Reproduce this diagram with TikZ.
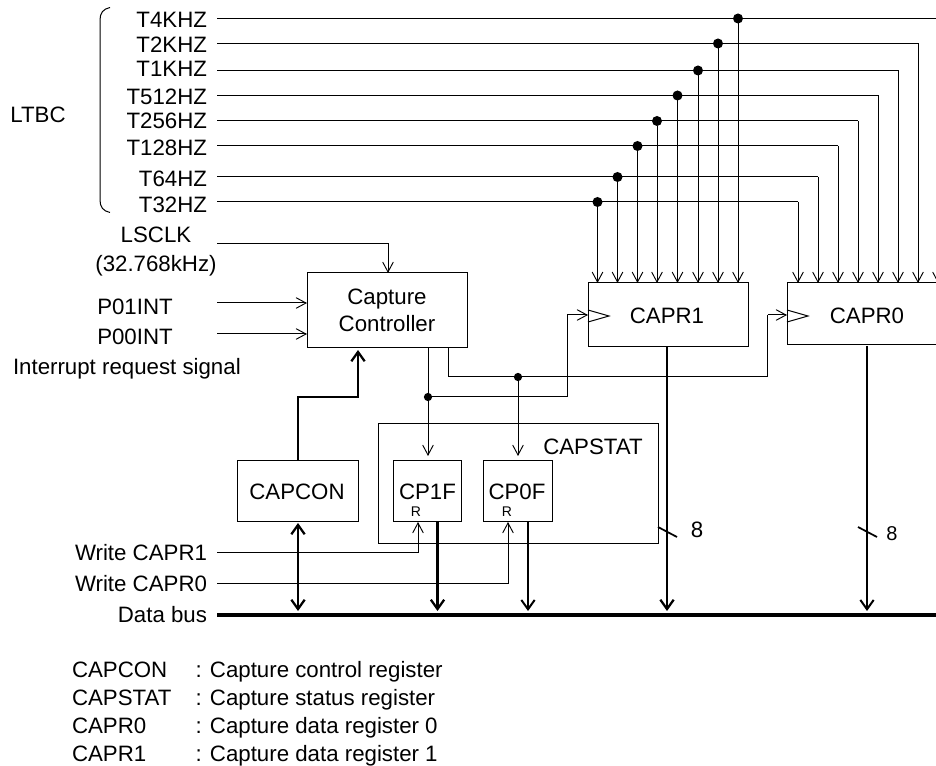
\documentclass[tikz,border=0pt]{standalone}
\usepackage{fontspec}
\setmainfont{Liberation Sans}
\usetikzlibrary{arrows.meta,calc}
\tikzset{
  x=0.75pt,y=-0.75pt,
  every node/.style={font=\fontsize{16.7}{20.5}\selectfont,inner sep=0pt,outer sep=0pt},
  wire/.style={line width=0.75pt,black},
  sig/.style={wire,-{Straight Barb[length=7.5pt,width=8pt,line width=0.7pt]}},
  bold/.style={line width=2.2pt,-{Straight Barb[length=7pt,width=10pt,line width=1.7pt]}},
  bolddbl/.style={line width=2.2pt,{Straight Barb[length=7pt,width=10pt,line width=1.7pt]}-{Straight Barb[length=7pt,width=10pt,line width=1.7pt]}},
  med/.style={line width=1.5pt,-{Straight Barb[length=7pt,width=10pt,line width=1.5pt]}},
  block/.style={draw,line width=0.75pt,minimum height=1pt},
  lab/.style={anchor=east},
  dot/.style={circle,fill=black,minimum size=7.5pt,inner sep=0pt},
  legend/.style={anchor=base west},
}
\newcommand{\boxnode}[6]{\node[block,minimum width=#4*0.75pt,minimum height=#5*0.75pt,align=center] (#1) at (#2,#3) {#6};}
\begin{document}
\begin{tikzpicture}
\useasboundingbox (0,0) rectangle (936,766);
\clip (0,0) rectangle (936,766);
% text labels
\node[lab] (lt4) at (207,20) {T4KHZ};
\node[lab] (lt2) at (207,45) {T2KHZ};
\node[lab] (lt1) at (207,69) {T1KHZ};
\node[lab] (lt512) at (207,97) {T512HZ};
\node[lab] (lt256) at (207,121) {T256HZ};
\node[lab] (lt128) at (207,148) {T128HZ};
\node[lab] (lt64) at (207,179) {T64HZ};
\node[lab] (lt32) at (207,205) {T32HZ};
\node (ltbc) at (38,115) {LTBC};
\node (lsclk) at (156,235) {LSCLK};
\node[anchor=base] (lsfreq) at (156,271.5) {(32.768kHz)};
\node (lp01) at (135,307) {P01INT};
\node (lp00) at (135,337) {P00INT};
\node[anchor=base west] (lirq) at (13,375) {Interrupt request signal};
\node[lab] (lw1) at (207,553) {Write CAPR1};
\node[lab] (lw0) at (207,584) {Write CAPR0};
\node[lab] (lbus) at (207,615) {Data bus};
% bracket
\draw[wire] (110,7.5) .. controls (103,9) and (100,13) .. (100,20) -- (100,200) .. controls (100,207) and (103,211) .. (110,212.5);
% boxes
\boxnode{capstat}{518}{484}{280}{120}{}
\node (capstatl) at (593,447) {CAPSTAT};
\boxnode{ctrl}{387}{310.5}{160}{75}{Capture\\Controller}
\boxnode{capr1}{668}{315}{160}{64}{}
\node (capr1l) at (667,316) {CAPR1};
\boxnode{capr0}{877}{314}{180}{62}{}
\node (capr0l) at (867,316) {CAPR0};
\boxnode{capcon}{297.5}{491.5}{121}{61}{}
\node (capconl) at (297,492) {CAPCON};
\boxnode{cp1f}{427.5}{491.5}{68}{61}{}
\node (cp1fl) at (427.5,492) {CP1F};
\boxnode{cp0f}{517.5}{491.5}{69}{61}{}
\node (cp0fl) at (517,492) {CP0F};
\node[font=\fontsize{10.5}{12}\selectfont] (r1) at (416,512) {R};
\node[font=\fontsize{10.5}{12}\selectfont] (r0) at (507,512) {R};
% clock triangles
\draw[wire] (capr1.west |- 0,310) -- (609,316) -- (capr1.west |- 0,322);
\draw[wire] (capr0.west |- 0,310) -- (808,316) -- (capr0.west |- 0,322);
% clock lines from LTBC
\foreach \name/\yy/\dx/\rx in {t32/202/597.5/798,t64/177/617.5/818,t128/146/637.5/838,t256/121/657/858,t512/95.5/677.5/878,t1/70.5/698/898,t2/43.5/718/918,t4/18.5/738/938}{
  \coordinate (s\name) at (217,\yy);
  \coordinate (c\name) at (\rx,\yy);
  \node[dot] (d\name) at (\dx,\yy) {};
  \draw[wire] (s\name) -- (c\name);
  \draw[sig] (d\name) -- (d\name |- capr1.north);
  \draw[sig] (c\name) -- (c\name |- capr0.north);
}
% inputs
\coordinate (sls) at (217,244);
\coordinate (sp01) at (217,303);
\coordinate (sp00) at (217,334);
\draw[sig] (sls) -| ([xshift=0.75pt]ctrl.north);
\draw[sig] (sp01) -- (sp01 -| ctrl.west);
\draw[sig] (sp00) -- (sp00 -| ctrl.west);
% capture outputs
\node[dot,minimum size=6.2pt] (j1) at (428,397) {};
\node[dot,minimum size=6.2pt] (j0) at (518,377) {};
\coordinate (o1) at (428,348);
\coordinate (o0) at (448,348);
\draw[wire] (o1) -- (j1);
\draw[sig] (j1) -- (j1 |- 0,456);
\draw[sig] (j0) -- (j0 |- 0,456);
\coordinate (k1) at (567,315);
\coordinate (k0) at (767.5,315);
\draw[wire] (j1) -- (j1 -| k1) -- (k1);
\draw[sig] (k1) -- (k1 -| capr1.west);
\draw[wire] (o0) |- (j0);
\draw[wire] (j0) -- (j0 -| k0) -- (k0);
\draw[sig] (k0) -- (k0 -| capr0.west);
% write signals
\coordinate (sw1) at (217,553);
\coordinate (sw0) at (217,584);
\coordinate (rr1) at (418,553);
\coordinate (rr0) at (508,584);
\draw[wire] (sw1) -- (rr1);
\draw[sig] (rr1) -- (rr1 |- cp1f.south);
\draw[wire] (sw0) -- (rr0);
\draw[sig] (rr0) -- (rr0 |- cp0f.south);
% control bold
\coordinate (b1) at (298,397);
\coordinate (b2) at (358,397);
\draw[bold] (capcon.north -| b1) -- (b1) -- (b2) -- ([yshift=-1.5pt]b2 |- ctrl.south);
% bus
\coordinate (bus0) at (217,615);
\coordinate (bus1) at (936,615);
\coordinate (a1) at (298,523);
\coordinate (a2) at (298,611);
\coordinate (a3) at (437.5,522);
\coordinate (a4) at (437.5,611);
\coordinate (a5) at (528,522);
\coordinate (a6) at (528,611);
\coordinate (a7) at (667,347);
\coordinate (a8) at (667,611);
\coordinate (a9) at (867,346);
\coordinate (a10) at (867,611);
\draw[line width=3pt] (bus0) -- (bus1);
\draw[bolddbl] (a1) -- (a2);
\draw[bold] (a3) -- (a4);
\draw[med] (a5) -- (a6);
\draw[bold] (a7) -- (a8);
\draw[med] (a9) -- (a10);
\draw[line width=1.3pt] (658,527) -- (677,537);
\draw[line width=1.3pt] (858,527) -- (877,537);
\node (n8a) at (697,530) {8};
\node[font=\fontsize{15}{18}\selectfont] (n8b) at (892,534) {8};
% legend
\node[legend] (k1a) at (72,677) {CAPCON};
\node[legend] (k1b) at (195.5,677) {: Capture control register};
\node[legend] (k2a) at (72,705) {CAPSTAT};
\node[legend] (k2b) at (195.5,705) {: Capture status register};
\node[legend] (k3a) at (72,733) {CAPR0};
\node[legend] (k3b) at (195.5,733) {: Capture data register 0};
\node[legend] (k4a) at (72,761) {CAPR1};
\node[legend] (k4b) at (195.5,761) {: Capture data register 1};
\end{tikzpicture}
\end{document}
